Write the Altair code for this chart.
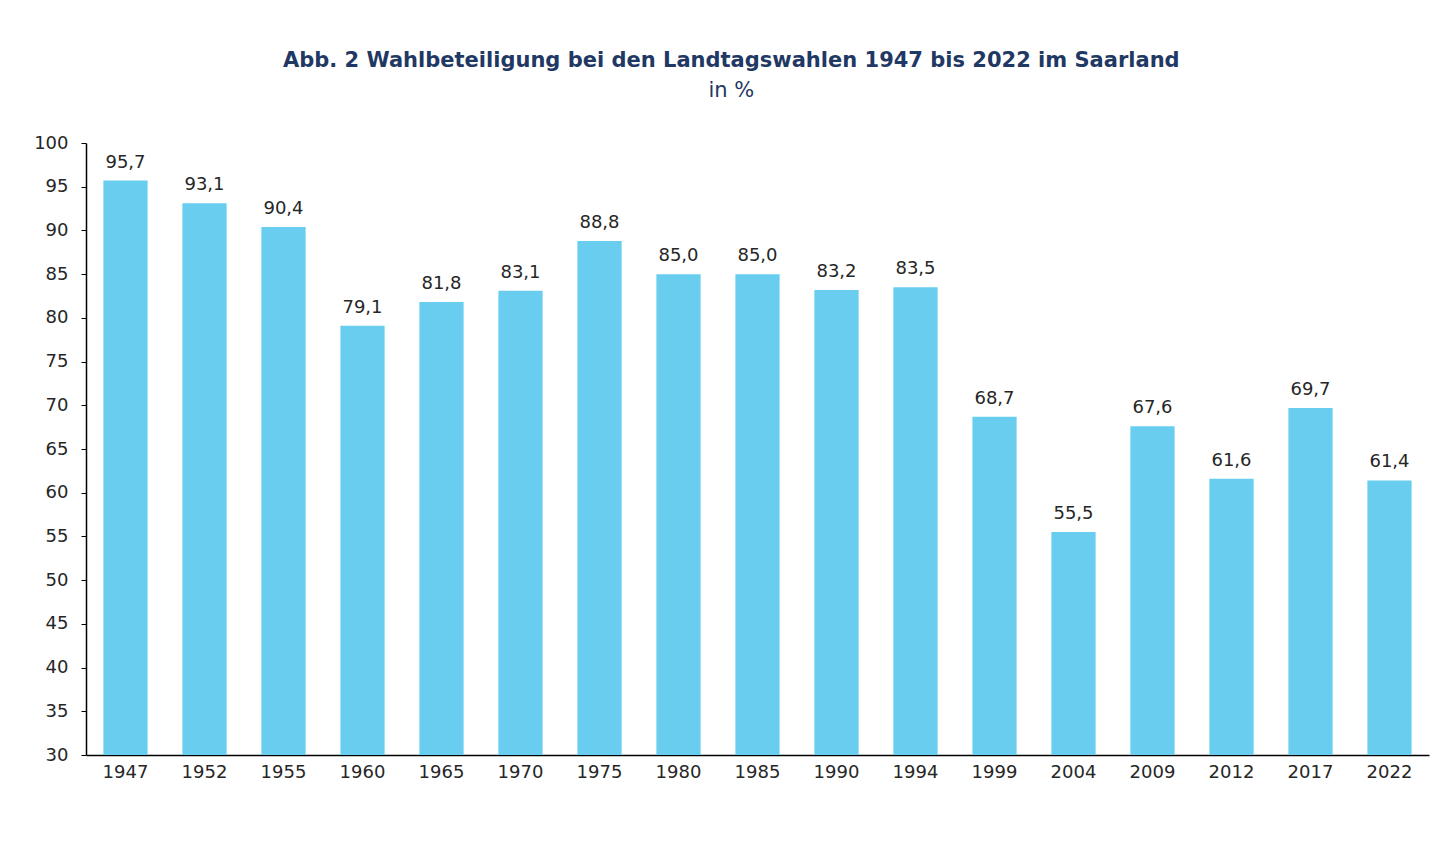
import altair as alt
import pandas as pd

years = ["1947", "1952", "1955", "1960", "1965", "1970", "1975", "1980", "1985",
         "1990", "1994", "1999", "2004", "2009", "2012", "2017", "2022"]
turnout = [95.7, 93.1, 90.4, 79.1, 81.8, 83.1, 88.8, 85.0, 85.0,
           83.2, 83.5, 68.7, 55.5, 67.6, 61.6, 69.7, 61.4]

df = pd.DataFrame({"Jahr": years, "Wert": turnout})

FONT = "DejaVu Sans"
BAR = "#69CDF0"
NAVY = "#1F3864"
TXT = "#262626"

base = alt.Chart(df).encode(
    x=alt.X("Jahr:N", sort=years, title=None,
            scale=alt.Scale(paddingInner=0.44, paddingOuter=0.22),
            axis=alt.Axis(labelAngle=0, ticks=False, domainColor="black",
                          domainWidth=1.5, labelFontSize=18, labelColor=TXT,
                          labelFont=FONT, labelPadding=8)),
    y=alt.Y("Wert:Q", title=None,
            scale=alt.Scale(domain=[30, 100], nice=False, zero=False),
            axis=alt.Axis(values=list(range(30, 101, 5)), grid=False,
                          domainColor="black", domainWidth=1.5,
                          tickColor="black", tickSize=5, labelFontSize=18,
                          labelColor=TXT, labelFont=FONT, labelPadding=13)),
)

bars = base.mark_bar(color=BAR).encode(y2=alt.datum(30))
labels = base.transform_calculate(
    lab="replace(format(datum.Wert, '.1f'), '.', ',')"
).mark_text(dy=-9, baseline="bottom", fontSize=18, font=FONT, color=TXT).encode(
    text="lab:N")

chart = (bars + labels).properties(
    width=1343, height=612,
    padding={"top": 42, "left": 25, "right": 10, "bottom": 10},
    title=alt.Title(
        "Abb. 2 Wahlbeteiligung bei den Landtagswahlen 1947 bis 2022 im Saarland",
        subtitle="in %", font=FONT, fontSize=21, fontWeight="bold", color=NAVY,
        subtitleFont=FONT, subtitleFontSize=21, subtitleColor=NAVY,
        subtitlePadding=9, anchor="middle", frame="bounds", offset=33),
).configure(background="white", view={"stroke": None})

chart.save("out.html", embed_options={"renderer": "svg", "actions": False})
